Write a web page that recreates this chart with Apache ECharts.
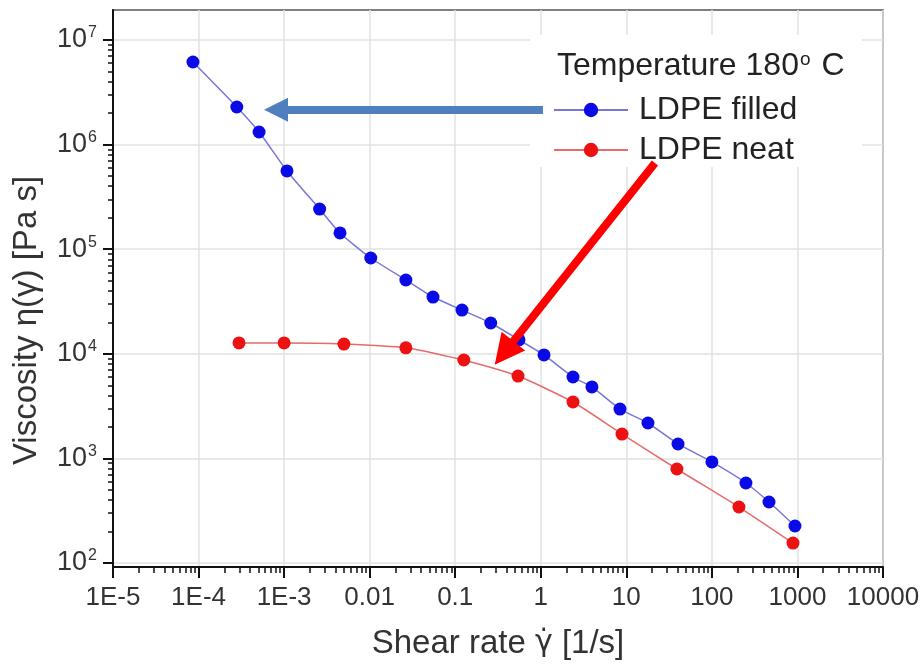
<!DOCTYPE html>
<html><head><meta charset="utf-8">
<script src="https://cdn.jsdelivr.net/npm/echarts@6.0.0/dist/echarts.min.js"></script>
<style>html,body{margin:0;padding:0;background:#fff}#c{width:923px;height:665px}</style>
</head><body><div id="c"></div>
<script>
// ---- data ----
const filledX = [8.6e-5, 2.8e-4, 5.1e-4, 1.08e-3, 2.6e-3, 4.5e-3, 0.0103, 0.0265, 0.055, 0.12, 0.26, 0.556, 1.09, 2.38, 3.96, 8.43, 17.9, 40.2, 100, 250, 465, 935];
const filledY = [6.16e6, 2.29e6, 1.32e6, 5.6e5, 2.42e5, 1.43e5, 8.24e4, 5.08e4, 3.49e4, 2.62e4, 1.97e4, 1.36e4, 9750, 6000, 4820, 2965, 2180, 1374, 925, 582, 383, 226];
const neatX = [2.97e-4, 1.0e-3, 5.0e-3, 0.0265, 0.126, 0.542, 2.38, 8.9, 39, 207, 887];
const neatY = [1.27e4, 1.27e4, 1.24e4, 1.14e4, 8730, 6130, 3460, 1710, 792, 343, 155];
const seriesNames = ['LDPE filled', 'LDPE neat'];
const legendTitle = 'Temperature 180{s|o} C';
const xTickValues = [1e-5, 1e-4, 1e-3, 1e-2, 1e-1, 1, 10, 100, 1000, 10000];
const xTickLabels = ['1E-5', '1E-4', '1E-3', '0.01', '0.1', '1', '10', '100', '1000', '10000'];
const yTickValues = [1e2, 1e3, 1e4, 1e5, 1e6, 1e7];
const yTickExponents = ['2', '3', '4', '5', '6', '7'];
const xName = 'Shear rate {g|\u03B3\u0307} [1/s]';
const yName = 'Viscosity \u03B7(\u03B3) [Pa s]';
// annotation arrows (data coordinates): [start, head]
const blueArrow = [[1.06, 2.15e6], [8.04e-4, 2.15e6]];
const redArrow = [[21.6, 6.67e5], [0.372, 1.02e4]];

function minorTicks(values) {
  const out = [];
  for (let i = 0; i < values.length - 1; i++) {
    for (let d = 2; d <= 9; d++) out.push(values[i] * d);
  }
  return out;
}
const pair = (xs, ys) => xs.map((x, i) => [x, ys[i]]);
const FONT = 'Liberation Sans, Arial, Helvetica, sans-serif';
const X_MIN = 1e-5, X_MAX = 1e4, Y_MIN = 91.6, Y_MAX = 1.936e7;

const chart = echarts.init(document.getElementById('c'));
chart.setOption({
  animation: false,
  backgroundColor: '#fff',
  textStyle: { fontFamily: FONT },
  grid: { left: 113, right: 40, top: 10, bottom: 98, show: true, borderColor: '#555', borderWidth: 1.5, containLabel: false, outerBoundsMode: 'none' },
  title: {
    text: legendTitle, left: 552, top: 45,
    textStyle: { fontFamily: FONT, fontSize: 32, fontWeight: 'normal', color: '#222',
      rich: { s: { fontFamily: FONT, fontSize: 19, color: '#222', verticalAlign: 'top', lineHeight: 32, padding: [0, 2, 14, 1] } } }
  },
  legend: {
    data: seriesNames, orient: 'vertical', left: 548, top: 89,
    itemWidth: 74, itemHeight: 18, itemGap: 8,
    textStyle: { fontFamily: FONT, fontSize: 32, color: '#222', lineHeight: 32, padding: [0, 0, 0, 6] }
  },
  graphic: [{ type: 'rect', left: 530, top: 35, shape: { width: 332, height: 132 }, style: { fill: '#fff' }, z: 1, silent: true }],
  xAxis: [{
    type: 'log', min: X_MIN, max: X_MAX,
    name: xName, nameLocation: 'middle', nameGap: 60,
    nameTextStyle: { fontFamily: FONT, fontSize: 33, color: '#333',
      rich: { g: { fontFamily: 'DejaVu Sans', fontSize: 30, color: '#333' } } },
    axisLine: { show: true, lineStyle: { color: '#111', width: 2 } },
    axisTick: { show: true, inside: false, length: 11, customValues: xTickValues, lineStyle: { color: '#111', width: 2 } },
    axisLabel: { customValues: xTickValues, margin: 18, fontFamily: FONT, fontSize: 26, color: '#333',
      formatter: v => xTickLabels[Math.round(Math.log10(v)) + 5] },
    splitLine: { show: true, lineStyle: { color: '#e2e2e2', width: 1.5 } }
  }, {
    type: 'log', min: X_MIN, max: X_MAX, position: 'bottom',
    axisLine: { show: false },
    axisTick: { show: true, length: 6, customValues: minorTicks(xTickValues), lineStyle: { color: '#111', width: 1.5 } },
    axisLabel: { show: false }, splitLine: { show: false }
  }],
  yAxis: [{
    type: 'log', min: Y_MIN, max: Y_MAX, position: 'left',
    name: yName, nameLocation: 'middle', nameGap: 70, nameRotate: 90,
    nameTextStyle: { fontFamily: FONT, fontSize: 33, color: '#333', padding: [0, 64, 0, 0] },
    axisLine: { show: true, lineStyle: { color: '#111', width: 2 } },
    axisTick: { show: true, length: 10, customValues: yTickValues, lineStyle: { color: '#111', width: 2 } },
    axisLabel: { customValues: yTickValues, margin: 16, fontFamily: FONT, color: '#333',
      formatter: v => '{b|10}{s|' + yTickExponents[Math.round(Math.log10(v)) - 2] + '}',
      rich: { b: { fontFamily: FONT, fontSize: 27, color: '#333', lineHeight: 30 },
              s: { fontFamily: FONT, fontSize: 16, color: '#333', verticalAlign: 'top', lineHeight: 30, padding: [0, 0, 12, 1] } } },
    splitLine: { show: true, lineStyle: { color: '#e2e2e2', width: 1.5 } }
  }, {
    type: 'log', min: Y_MIN, max: Y_MAX, position: 'left',
    axisLine: { show: false },
    axisTick: { show: true, length: 5, customValues: minorTicks(yTickValues), lineStyle: { color: '#111', width: 1.5 } },
    axisLabel: { show: false }, splitLine: { show: false }
  }],
  series: [{
    name: seriesNames[0], type: 'line', xAxisIndex: 0, yAxisIndex: 0, z: 3,
    data: pair(filledX, filledY), smooth: 0.2,
    symbol: 'circle', symbolSize: 13,
    itemStyle: { color: '#0a0ae6' },
    lineStyle: { color: '#7777d6', width: 1.5 },
    markLine: {
      silent: true, animation: false, label: { show: false },
      symbol: ['none', 'triangle'], symbolSize: [24, 24],
      lineStyle: { color: '#4f7fbd', width: 8, type: 'solid' },
      data: [[{ coord: blueArrow[0] }, { coord: blueArrow[1] }]]
    }
  }, {
    name: seriesNames[1], type: 'line', xAxisIndex: 0, yAxisIndex: 0, z: 3,
    data: pair(neatX, neatY), smooth: 0.2,
    symbol: 'circle', symbolSize: 13,
    itemStyle: { color: '#ec1212' },
    lineStyle: { color: '#e86a6a', width: 1.5 },
    markLine: {
      silent: true, animation: false, label: { show: false },
      symbol: ['none', 'triangle'], symbolSize: [30, 30],
      lineStyle: { color: '#ff0000', width: 8, type: 'solid' },
      data: [[{ coord: redArrow[0] }, { coord: redArrow[1] }]]
    }
  }]
});
</script></body></html>
